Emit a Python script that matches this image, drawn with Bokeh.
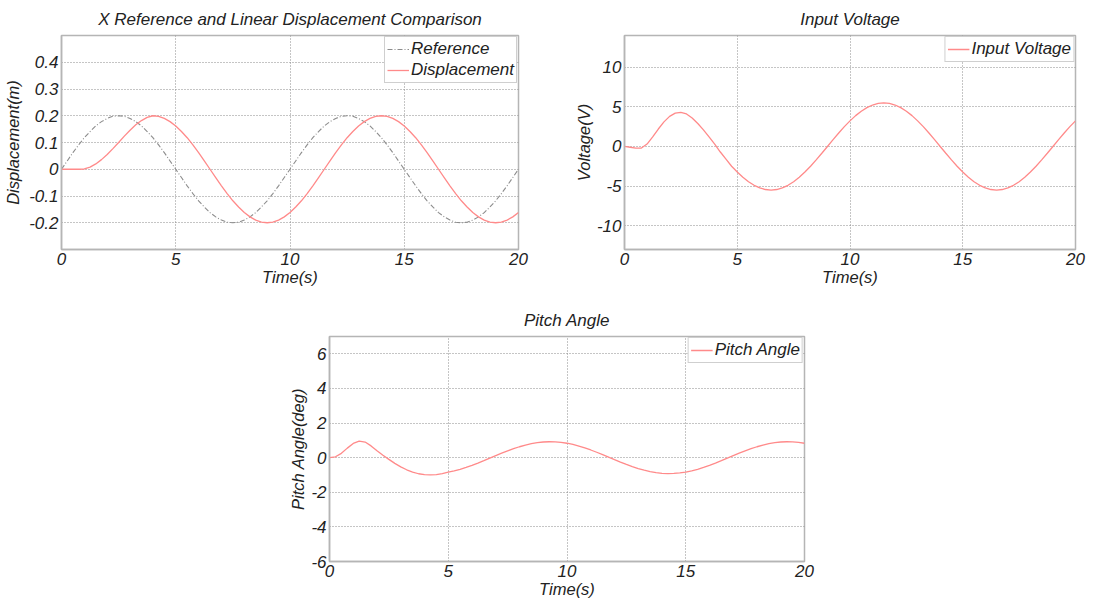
from bokeh.plotting import figure
from bokeh.layouts import column, row, Spacer
from bokeh.models import Range1d, FixedTicker, Legend, LegendItem
from bokeh.embed import file_html
from bokeh.resources import INLINE

# ---------------- data (sampled every 0.25 s) ----------------
time_s = [round(0.25 * i, 2) for i in range(81)]

reference_m = [
    0, .031, .062, .091, .118, .141, .162, .178, .190, .198, .200, .198, .190, .178, .162, .141, .118, .091, .062, .031,
    0, -.031, -.062, -.091, -.118, -.141, -.162, -.178, -.190, -.198, -.200, -.198, -.190, -.178, -.162, -.141, -.118, -.091, -.062, -.031,
    0, .031, .062, .091, .118, .141, .162, .178, .190, .198, .200, .198, .190, .178, .162, .141, .118, .091, .062, .031,
    0, -.031, -.062, -.091, -.118, -.141, -.162, -.178, -.190, -.198, -.200, -.198, -.190, -.178, -.162, -.141, -.118, -.091, -.062, -.031,
    0,
]

displacement_m = [
    0, 0, 0, 0, 0.001, 0.008, 0.02, 0.036, 0.055, 0.077, 0.10, 0.124, 0.146, 0.166, 0.182, 0.194, 0.2, 0.198,
    0.190, 0.178, 0.162, 0.141, 0.118, 0.091, 0.062, 0.031,
    0,
    -.031, -.062, -.091, -.118, -.141, -.162, -.178, -.190, -.198, -.200, -.198, -.190, -.178, -.162, -.141, -.118, -.091, -.062, -.031,
    0,
    .031, .062, .091, .118, .141, .162, .178, .190, .198, .200, .198, .190, .178, .162, .141, .118, .091, .062, .031,
    0,
    -.031, -.062, -.091, -.118, -.141, -.162, -.178, -.190, -.198, -.200, -.198, -.190, -.178, -.162,
]

voltage_v = [
    0, -0.1, -0.2, -0.2, 0.3, 1.2, 2.2, 3.1, 3.8, 4.2, 4.3, 4.1, 3.6, 2.9, 2.1, 1.2,
    0.3, -0.7, -1.6, -2.5,
    -3.23, -3.89, -4.45, -4.90, -5.23, -5.43, -5.5, -5.43, -5.23, -4.90, -4.45, -3.89, -3.23, -2.50, -1.70, -0.86,
    0,
    .86, 1.70, 2.50, 3.23, 3.89, 4.45, 4.90, 5.23, 5.43, 5.5, 5.43, 5.23, 4.90, 4.45, 3.89, 3.23, 2.50, 1.70, .86,
    0,
    -.86, -1.70, -2.50, -3.23, -3.89, -4.45, -4.90, -5.23, -5.43, -5.5, -5.43, -5.23, -4.90, -4.45, -3.89, -3.23, -2.50, -1.70, -.86,
    0,
    .86, 1.70, 2.50, 3.23,
]

pitch_deg = [
    0, 0.05, 0.25, 0.55, 0.82, 0.95, 0.9, 0.68, 0.4, 0.14, -0.1, -0.33, -0.53, -0.7, -0.83, -0.93, -0.98, -1.0, -0.98, -0.92,
    -0.833, -0.761, -0.671, -0.564, -0.443, -0.312, -0.172, -0.029,
    0.115, 0.257, 0.392, 0.517, 0.630, 0.727, 0.806, 0.866, 0.904, 0.920, 0.913, 0.883, 0.833,
    0.761, 0.671, 0.564, 0.443, 0.312, 0.172, 0.029,
    -0.115, -0.257, -0.392, -0.517, -0.630, -0.727, -0.806, -0.866, -0.904, -0.920, -0.913, -0.883, -0.833,
    -0.761, -0.671, -0.564, -0.443, -0.312, -0.172, -0.029,
    0.115, 0.257, 0.392, 0.517, 0.630, 0.727, 0.806, 0.866, 0.904, 0.920, 0.913, 0.883, 0.833,
]

x_ticks = [0, 5, 10, 15, 20]
x_tick_labels = ["0", "5", "10", "15", "20"]
disp_ticks = [-0.2, -0.1, 0, 0.1, 0.2, 0.3, 0.4]
disp_tick_labels = ["-0.2", "-0.1", "0", "0.1", "0.2", "0.3", "0.4"]
volt_ticks = [-10, -5, 0, 5, 10]
volt_tick_labels = ["-10", "-5", "0", "5", "10"]
pitch_ticks = [-6, -4, -2, 0, 2, 4, 6]
pitch_tick_labels = ["-6", "-4", "-2", "0", "2", "4", "6"]

FONT = "Liberation Sans"
RED = "#ff8a8a"
GREY_FRAME = "#b5b5b5"
TEXT = "#222222"


def make_fig(title, w, h, yr, yticks, ylabels, ylabel, mbl, mbr, mbt, mbb, label_standoff):
    p = figure(width=w, height=h, x_range=Range1d(0, 20), y_range=Range1d(*yr),
               output_backend="svg", toolbar_location=None,
               min_border_left=mbl, min_border_right=mbr,
               min_border_top=mbt, min_border_bottom=mbb)
    p.title.text = title
    p.title.align = "center"
    p.title.text_font = FONT
    p.title.text_font_style = "italic"
    p.title.text_font_size = "17px"
    p.title.text_color = TEXT
    p.title.standoff = 14
    p.outline_line_color = GREY_FRAME
    p.outline_line_width = 1.5
    p.background_fill_color = "white"
    p.border_fill_color = "white"
    p.xaxis.ticker = FixedTicker(ticks=x_ticks)
    p.yaxis.ticker = FixedTicker(ticks=yticks)
    p.xaxis.major_label_overrides = {v: s for v, s in zip(x_ticks, x_tick_labels)}
    p.yaxis.major_label_overrides = {v: s for v, s in zip(yticks, ylabels)}
    p.xaxis.axis_label = "Time(s)"
    p.yaxis.axis_label = ylabel
    for ax in (p.xaxis[0], p.yaxis[0]):
        ax.major_label_text_font = FONT
        ax.major_label_text_font_style = "italic"
        ax.major_label_text_font_size = "17px"
        ax.major_label_text_color = TEXT
        ax.axis_label_text_font = FONT
        ax.axis_label_text_font_style = "italic"
        ax.axis_label_text_font_size = "16.5px"
        ax.axis_label_text_color = TEXT
        ax.axis_line_color = GREY_FRAME
        ax.axis_line_width = 1.5
        ax.major_tick_out = 0
        ax.major_tick_in = 0
        ax.minor_tick_line_color = None
        ax.major_label_standoff = 3
    p.xaxis.axis_label_standoff = 0
    p.yaxis.axis_label_standoff = label_standoff
    for g in (p.xgrid[0], p.ygrid[0]):
        g.grid_line_color = "#8a8a8a"
        g.grid_line_dash = "1 2"
        g.grid_line_width = 1
    return p


def style_legend(leg):
    leg.location = "top_right"
    leg.label_text_font = FONT
    leg.label_text_font_style = "italic"
    leg.label_text_font_size = "17px"
    leg.label_text_color = TEXT
    leg.border_line_color = "#a0a0a0"
    leg.border_line_width = 1
    leg.background_fill_color = "white"
    leg.background_fill_alpha = 1
    leg.padding = 2
    leg.spacing = 1
    leg.margin = 1
    leg.glyph_width = 22
    leg.glyph_height = 20
    leg.label_standoff = 2
    leg.label_height = 20


# ---- top-left: displacement ----
p1 = make_fig("X Reference and Linear Displacement Comparison", 545, 298, (-0.3, 0.5),
              disp_ticks, disp_tick_labels, "Displacement(m)", 61, 27, 35, 46, 4)
r_ref = p1.line(time_s, reference_m, line_color="#8c8c8c", line_width=1.1, line_dash="5 2 1 2")
r_disp = p1.line(time_s, displacement_m, line_color=RED, line_width=1.3)
leg1 = Legend(items=[LegendItem(label="Reference", renderers=[r_ref]),
                     LegendItem(label="Displacement", renderers=[r_disp])])
style_legend(leg1)
p1.add_layout(leg1)

# ---- top-right: voltage ----
p2 = make_fig("Input Voltage", 550, 298, (-13, 14), volt_ticks, volt_tick_labels,
              "Voltage(V)", 79, 20, 35, 49, 1)
r_v = p2.line(time_s, voltage_v, line_color=RED, line_width=1.3)
leg2 = Legend(items=[LegendItem(label="Input Voltage", renderers=[r_v])])
style_legend(leg2)
p2.add_layout(leg2)

# ---- bottom: pitch ----
p3 = make_fig("Pitch Angle", 545, 305, (-6, 7), pitch_ticks, pitch_tick_labels,
              "Pitch Angle(deg)", 49, 21, 38, 42, 1)
r_p = p3.line(time_s, pitch_deg, line_color=RED, line_width=1.3)
leg3 = Legend(items=[LegendItem(label="Pitch Angle", renderers=[r_p])])
style_legend(leg3)
p3.add_layout(leg3)

layout = column(row(p1, p2), row(Spacer(width=280, height=305), p3))
layout.background = "white"
open("out.html", "w").write(file_html(layout, INLINE))
